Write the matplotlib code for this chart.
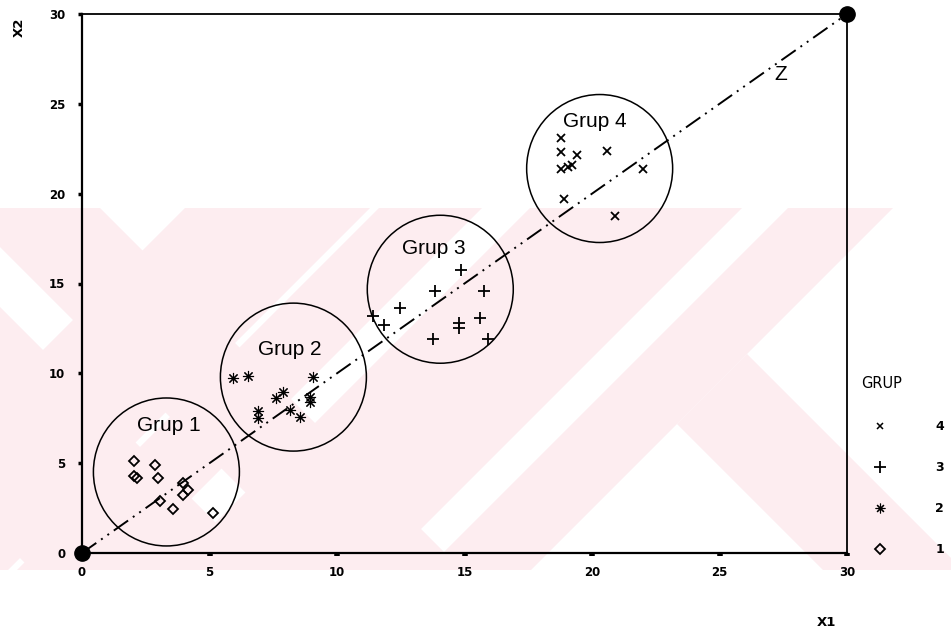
import matplotlib
matplotlib.use("Agg")
import matplotlib.pyplot as plt
from matplotlib.patches import Ellipse, Polygon, Rectangle
from matplotlib.lines import Line2D

# ---- data ----
grup1_x = [2.04, 2.86, 2.04, 2.16, 2.98, 3.96, 4.16, 3.96, 3.06, 3.57, 5.14]
grup1_y = [5.12, 4.90, 4.28, 4.17, 4.17, 3.90, 3.51, 3.23, 2.89, 2.45, 2.23]

grup2_x = [5.92, 6.51, 9.06, 7.88, 7.61, 6.90, 6.90, 8.16, 8.55, 8.94, 8.94]
grup2_y = [9.74, 9.85, 9.79, 8.96, 8.63, 7.90, 7.51, 7.96, 7.57, 8.68, 8.40]

grup3_x = [14.86, 13.84, 15.76, 12.47, 11.41, 11.84, 14.78, 14.78, 15.61, 13.76, 15.92]
grup3_y = [15.75, 14.58, 14.58, 13.63, 13.19, 12.69, 12.80, 12.52, 13.08, 11.91, 11.91]

grup4_x = [18.8, 18.8, 19.4, 20.6, 18.8, 19.06, 19.2, 22.0, 18.9, 20.9]
grup4_y = [23.1, 22.3, 22.15, 22.4, 21.4, 21.5, 21.6, 21.4, 19.7, 18.75]

groups = ["1", "2", "3", "4"]
circle_cx = [3.31, 8.29, 14.05, 20.3]
circle_cy = [4.51, 9.79, 14.68, 21.4]
label_x = [3.39, 8.14, 13.8, 20.1]
label_y = [7.07, 11.35, 16.97, 24.0]

z_line_x = [0, 30]
z_line_y = [0, 30]

ticks = [0, 5, 10, 15, 20, 25, 30]

W, H = 951, 635
fig = plt.figure(figsize=(W / 100, H / 100), dpi=100)

# ---- faint pink watermark behind the chart (pixel coordinates) ----
bg = fig.add_axes([0, 0, 1, 1], zorder=-5)
bg.set_xlim(0, W)
bg.set_ylim(H, 0)
bg.axis("off")
PINK = "#fdedf0"
TOP, BOT = 208, 570
SPAN = BOT - TOP


def slash(c0, c1):
    return [(c0, TOP), (c1, TOP), (c1 - SPAN, BOT), (c0 - SPAN, BOT)]


def backslash(c0, c1, start=None):
    if start is None:
        return [(c0, TOP), (c1, TOP), (c1 + SPAN, BOT), (c0 + SPAN, BOT)]
    p0 = ((start + c0) / 2, TOP + (start - c0) / 2)
    p1 = ((start + c1) / 2, TOP + (start - c1) / 2)
    return [p1, (c1 + SPAN, BOT), (c0 + SPAN, BOT), p0]


clip = Rectangle((0, TOP), W, SPAN, transform=bg.transData, visible=False)
bg.add_patch(clip)
bands = [
    backslash(-39, 100),
    backslash(-330, -99),
    slash(185, 370),
    slash(379, 482),
    slash(530, 742),
    slash(788, 893),
    backslash(461, 601, start=893),
]
for verts in bands:
    p = Polygon(verts, closed=True, facecolor=PINK, edgecolor="none")
    bg.add_patch(p)
    p.set_clip_path(clip)

# ---- main axes ----
ax = fig.add_axes([82 / W, (H - 553) / H, (847 - 82) / W, (553 - 14) / H])
ax.patch.set_alpha(0)
ax.set_xlim(0, 30)
ax.set_ylim(0, 30)

ax.plot(z_line_x, z_line_y, color="black", lw=1.4,
        linestyle=(0, (9, 3, 1, 3, 1, 3)), zorder=2)
ax.plot(z_line_x, z_line_y, linestyle="none", marker="o", markersize=11,
        color="black", clip_on=False, zorder=5)

ax.plot(grup1_x, grup1_y, linestyle="none", marker="D", markersize=5.5,
        markerfacecolor="none", markeredgecolor="black", markeredgewidth=1.3)
ax.plot(grup2_x, grup2_y, linestyle="none", marker=(8, 2, 0), markersize=8,
        color="black", markeredgewidth=0.8)
ax.plot(grup3_x, grup3_y, linestyle="none", marker="+", markersize=9,
        color="black", markeredgewidth=1.3)
ax.plot(grup4_x, grup4_y, linestyle="none", marker="x", markersize=5.5,
        color="black", markeredgewidth=1.3)

cw = 146 / 25.5
ch = 148 / 17.97
for cx, cy in zip(circle_cx, circle_cy):
    ax.add_patch(Ellipse((cx, cy), cw, ch, fill=False, edgecolor="black", lw=1.1))

for g, lx, ly in zip(groups, label_x, label_y):
    ax.text(lx, ly, "Grup " + g, ha="center", va="center",
            fontsize=15, family="Liberation Sans")
ax.text(27.41, 26.66, "Z", ha="center", va="center", fontsize=15,
        family="Liberation Sans")

ax.set_xticks(ticks)
ax.set_yticks(ticks)
ax.tick_params(axis="x", direction="out", length=2.2, width=4, pad=7)
ax.tick_params(axis="y", direction="out", length=3, width=2.5, pad=9)
for lab in ax.get_xticklabels() + ax.get_yticklabels():
    lab.set_fontweight("bold")
    lab.set_fontsize(8.5)
for side in ["left", "bottom"]:
    ax.spines[side].set_linewidth(1.6)
for side in ["top", "right"]:
    ax.spines[side].set_linewidth(1.3)

fig.text(19 / W, 1 - 27 / H, "X2", rotation=90, ha="center", va="center",
         fontsize=9.5, fontweight="bold")
fig.text(826 / W, 1 - 622 / H, "X1", ha="center", va="center",
         fontsize=9.5, fontweight="bold")

# ---- legend ----
handles = [
    Line2D([], [], linestyle="none", marker="x", markersize=4.5, color="black", markeredgewidth=1.1),
    Line2D([], [], linestyle="none", marker="+", markersize=8, color="black", markeredgewidth=1.3),
    Line2D([], [], linestyle="none", marker=(8, 2, 0), markersize=7, color="black", markeredgewidth=0.8),
    Line2D([], [], linestyle="none", marker="D", markersize=5.5, markerfacecolor="none",
           markeredgecolor="black", markeredgewidth=1.3),
]
leg = fig.legend(handles, groups[::-1], loc="upper left",
                 bbox_to_anchor=(874 / W, 1 - 420 / H), bbox_transform=fig.transFigure,
                 frameon=False, borderpad=0, borderaxespad=0, handlelength=1.0,
                 handletextpad=3.9, labelspacing=2.25,
                 prop={"weight": "bold", "size": 9})
fig.text(882 / W, 1 - 383 / H, "GRUP", ha="center", va="center", fontsize=10.5)

fig.savefig("out.png", dpi=100)
